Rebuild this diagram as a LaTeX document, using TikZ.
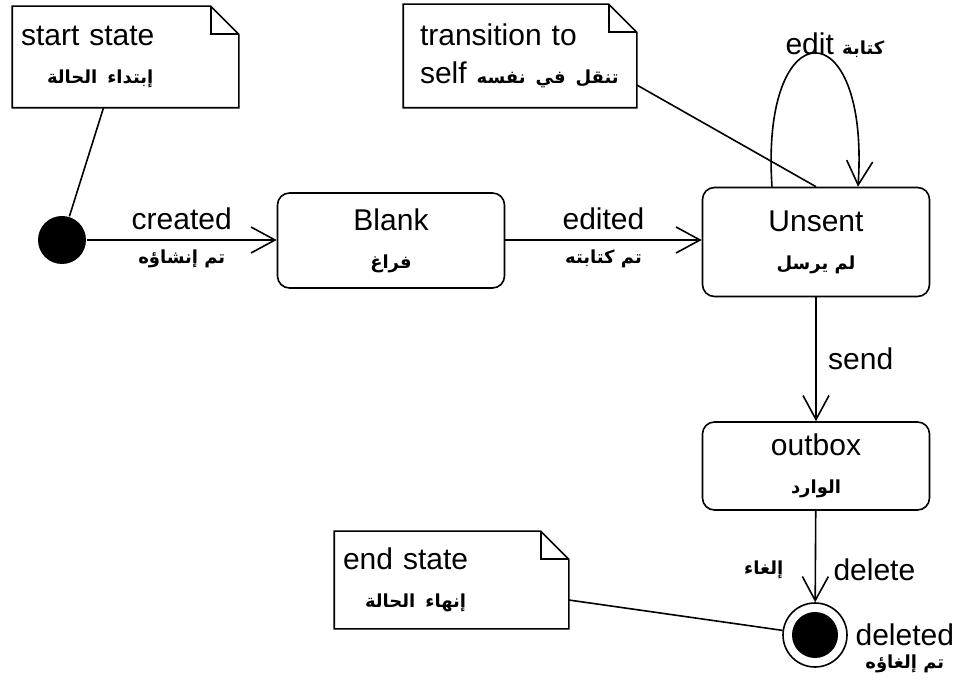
\documentclass[tikz,border=0pt]{standalone}
\usepackage{fontspec}
\setmainfont{Liberation Sans}
\newfontfamily\arabicfont[Script=Arabic]{DejaVu Sans}
\TeXXeTstate=1
\newcommand{\arabtxt}[1]{{\arabicfont\bfseries\fontsize{18}{22}\selectfont\beginR #1\endR}}
\usetikzlibrary{arrows.meta,positioning,calc}

\begin{document}
\begin{tikzpicture}[x=1pt, y=-1pt, line width=1.6pt,
    every node/.style={font=\fontsize{30}{38}\selectfont},
    state/.style={draw, rounded corners=12pt, align=center, minimum width=227pt},
    note/.style={align=left, inner sep=8pt},
    trans/.style={-{Straight Barb[length=24pt,width=26pt]}}]
  \useasboundingbox (0,0) rectangle (962,684);

  % states
  \node[circle, fill, minimum size=48pt, inner sep=0pt] (init) at (62,240) {};
  \node[state, minimum height=95pt] (blank) at (391,240.5) {Blank\\\arabtxt{فراغ}};
  \node[state, minimum height=109pt] (unsent) at (816,242) {Unsent\\\arabtxt{لم يرسل}};
  \node[state, minimum height=88pt] (outbox) at (816,466) {outbox\\\arabtxt{الوارد}};
  \node[circle, draw, minimum size=64pt, inner sep=0pt] (final) at (815,635) {};
  \node[circle, fill, minimum size=46pt, inner sep=0pt] (finaldot) at (final) {};
  \node[right=6pt of final, inner sep=1pt] (deletedlbl) {deleted};
  \node[below=5pt of deletedlbl, inner sep=1pt] (deletedar) {\arabtxt{تم إلغاؤه}};

  % notes
  \node[note, text width=209pt, minimum height=100pt] (startnote) at (125.5,57)
    {start state\\\hspace*{26pt}\arabtxt{إبتداء الحالة}};
  \node[note, text width=200pt, minimum height=102pt, inner xsep=16pt] (transnote) at (520,56)
    {transition to\\self \arabtxt{تنقل في نفسه}};
  \node[note, text width=217pt, minimum height=96pt] (endnote) at (451.5,580)
    {end state\\\hspace*{22pt}\arabtxt{إنهاء الحالة}\\[4pt]};
  \foreach \n in {startnote,transnote,endnote} {
    \draw (\n.north west) -- ([xshift=-28pt]\n.north east) -- ([yshift=-28pt]\n.north east)
      -- (\n.south east) -- (\n.south west) -- cycle;
    \draw ([xshift=-28pt]\n.north east) -- ([xshift=-28pt,yshift=-28pt]\n.north east)
      -- ([yshift=-28pt]\n.north east);
  }
  \draw ([xshift=-22pt]startnote.south) -- (init);
  \draw ([yshift=-29pt]transnote.east) -- (unsent.north);
  \draw ([yshift=-20pt]endnote.east) -- (final);

  % transitions
  \draw[trans] (init) -- (init -| blank.west)
    node[midway, above=6pt] (createdlbl) {created}
    node[midway, below=6pt] (createdar) {\arabtxt{تم إنشاؤه}};
  \draw[trans] (blank.east |- init) -- (unsent.west |- init)
    node[midway, above=6pt] (editedlbl) {edited}
    node[midway, below=6pt] (editedar) {\arabtxt{تم كتابته}};
  \draw[trans] ([xshift=-44pt]unsent.north) .. controls +(-12,-178) and +(12,-178) .. ([xshift=42pt]unsent.north);
  \node (editlbl) at (835,45) {edit \arabtxt{كتابة}};
  \draw[trans] (unsent) -- (outbox)
    node[midway, right=8pt] (sendlbl) {send};
  \draw[trans] (outbox) -- (final)
    node[pos=0.65, right=14pt] (deletelbl) {delete}
    node[pos=0.65, left=28pt] (deletear) {\arabtxt{إلغاء}};
\end{tikzpicture}
\end{document}
